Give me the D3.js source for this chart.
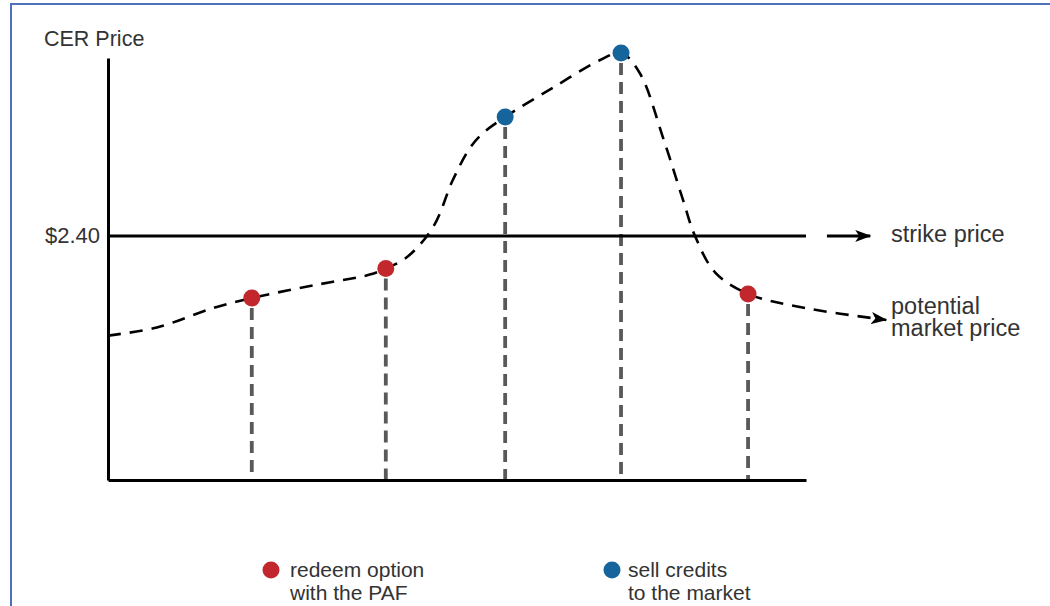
<!DOCTYPE html>
<html>
<head>
<meta charset="utf-8">
<script src="https://cdn.jsdelivr.net/npm/d3@7"></script>
<style>
  body { margin: 0; background: #fff; }
  text { font-family: "Liberation Sans", Arial, sans-serif; fill: #333; }
</style>
</head>
<body>
<svg width="1050" height="606"></svg>
<script>
// price path (time units 0..100 on the axis, price in $)
const pathTime  = [0, 7, 15, 20.6, 29.9, 37.5, 39.8, 42.8, 46.6, 49.4, 51.9, 53.7, 56.9, 63.8, 70.5, 73.5, 76.2, 79.5, 82.4, 84.1, 87, 91.7, 100, 111.5];
const pathPrice = [1.42, 1.50, 1.69, 1.79, 1.92, 2.02, 2.08, 2.19, 2.49, 2.95, 3.27, 3.41, 3.57, 3.86, 4.13, 4.20, 4.00, 3.37, 2.75, 2.40, 2.04, 1.83, 1.69, 1.574];

// decision points
const redeemTime  = [20.6, 39.8, 91.7];
const redeemPrice = [1.79, 2.08, 1.83];
const sellTime  = [56.9, 73.5];
const sellPrice = [3.57, 4.20];

const strikePrice = 2.40;
const strikeArrow = [103, 109.2];

const labels = {
  yTitle: "CER Price",
  strike: "strike price",
  market: ["potential", "market price"],
  redeem: ["redeem option", "with the PAF"],
  sell: ["sell credits", "to the market"]
};

const RED = "#c1272d", BLUE = "#15649b";

const svg = d3.select("svg");
const margin = {left: 108, top: 58, right: 244, bottom: 126};
const width = 1050 - margin.left - margin.right;
const height = 606 - margin.top - margin.bottom;

const x = d3.scaleLinear().domain([0, 100]).range([margin.left, margin.left + width]);
const y = d3.scaleLinear().domain([0, 4.15]).range([margin.top + height, margin.top]);

// frame
svg.append("line").attr("x1", 11).attr("x2", 11).attr("y1", 4).attr("y2", 606)
  .attr("stroke", "#4e72b8").attr("stroke-width", 2);
svg.append("line").attr("x1", 10).attr("x2", 1050).attr("y1", 4).attr("y2", 4)
  .attr("stroke", "#4e72b8").attr("stroke-width", 2);

const defs = svg.append("defs");
defs.append("marker")
  .attr("id", "arrow")
  .attr("viewBox", "0 -6 16 12")
  .attr("refX", 15).attr("refY", 0)
  .attr("markerUnits", "userSpaceOnUse")
  .attr("markerWidth", 16).attr("markerHeight", 12)
  .attr("orient", "auto")
  .append("path").attr("d", "M0,-6L16,0L0,6L4,0Z").attr("fill", "#000");

// drop lines
const drops = redeemTime.map((t, i) => ({t, p: redeemPrice[i]}))
  .concat(sellTime.map((t, i) => ({t, p: sellPrice[i]})));
svg.selectAll(".drop").data(drops).join("line")
  .attr("class", "drop")
  .attr("x1", d => x(d.t)).attr("x2", d => x(d.t))
  .attr("y1", d => y(d.p) + 10).attr("y2", y(0))
  .attr("stroke", "#595959").attr("stroke-width", 3.8)
  .attr("stroke-dasharray", "12,7");

// axes
const yAxis = svg.append("g")
  .attr("transform", `translate(${margin.left},0)`)
  .call(d3.axisLeft(y).tickValues([strikePrice]).tickSize(0).tickSizeOuter(0).tickPadding(8)
    .tickFormat(d3.format("$.2f")));
yAxis.select(".domain").attr("stroke", "#000").attr("stroke-width", 3);
yAxis.selectAll("text").style("font-size", "22px").attr("fill", "#333")
  .style("font-family", "'Liberation Sans', Arial, sans-serif");

const xAxis = svg.append("g")
  .attr("transform", `translate(0,${y(0)})`)
  .call(d3.axisBottom(x).tickValues([]).tickSizeOuter(0));
xAxis.select(".domain").attr("stroke", "#000").attr("stroke-width", 3);

// strike line
svg.append("line")
  .attr("x1", x(0)).attr("x2", x(100))
  .attr("y1", y(strikePrice)).attr("y2", y(strikePrice))
  .attr("stroke", "#000").attr("stroke-width", 3);
svg.append("line")
  .attr("x1", x(strikeArrow[0])).attr("x2", x(strikeArrow[1]))
  .attr("y1", y(strikePrice)).attr("y2", y(strikePrice))
  .attr("stroke", "#000").attr("stroke-width", 3)
  .attr("marker-end", "url(#arrow)");

// price curve
const pts = pathTime.map((t, i) => [t, pathPrice[i]]);
const line = d3.line().x(d => x(d[0])).y(d => y(d[1])).curve(d3.curveCatmullRom.alpha(0.5));
svg.append("path")
  .datum(pts)
  .attr("fill", "none")
  .attr("stroke", "#000")
  .attr("stroke-width", 2.6)
  .attr("stroke-dasharray", "13,9")
  .attr("d", line)
  .attr("marker-end", "url(#arrow)");

// dots
svg.selectAll(".redeem").data(redeemTime).join("circle")
  .attr("class", "redeem")
  .attr("cx", d => x(d)).attr("cy", (d, i) => y(redeemPrice[i]))
  .attr("r", 8.5).attr("fill", RED);
svg.selectAll(".sell").data(sellTime).join("circle")
  .attr("class", "sell")
  .attr("cx", d => x(d)).attr("cy", (d, i) => y(sellPrice[i]))
  .attr("r", 8.5).attr("fill", BLUE);

// labels
svg.append("text").attr("x", 44).attr("y", 46).style("font-size", "21.5px").text(labels.yTitle);
svg.append("text").attr("x", 891).attr("y", 242).style("font-size", "23.5px").text(labels.strike);
svg.append("text").attr("x", 891).attr("y", 314).style("font-size", "23.5px")
  .selectAll("tspan").data(labels.market).join("tspan")
  .attr("x", 891).attr("dy", (d, i) => i ? 22 : 0).text(d => d);

// legend
const legend = [
  {color: RED, cx: 271, tx: 290, lines: labels.redeem},
  {color: BLUE, cx: 612, tx: 628, lines: labels.sell}
];
legend.forEach(l => {
  svg.append("circle").attr("cx", l.cx).attr("cy", 570).attr("r", 8.5).attr("fill", l.color);
  svg.append("text").attr("x", l.tx).attr("y", 577).style("font-size", "21px")
    .selectAll("tspan").data(l.lines).join("tspan")
    .attr("x", l.tx).attr("dy", (d, i) => i ? 23 : 0).text(d => d);
});
</script>
</body>
</html>
